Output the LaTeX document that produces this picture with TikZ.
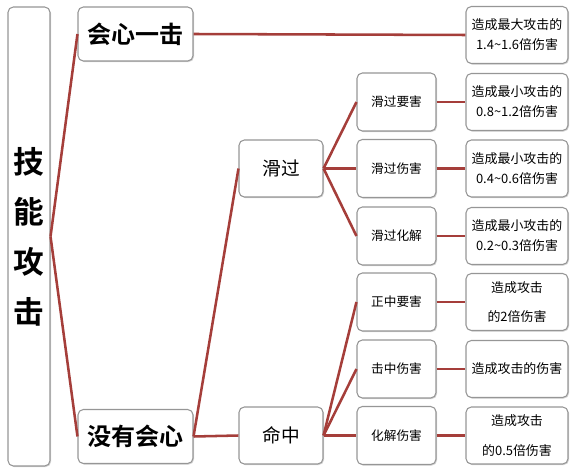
\documentclass[tikz,border=0pt]{standalone}
\usepackage{fontspec}
\setmainfont{Noto Sans CJK SC}[BoldFont={Noto Sans CJK SC Bold}]
\usetikzlibrary{shadows}
\definecolor{linkred}{RGB}{165,62,58}
\definecolor{boxgray}{RGB}{150,150,150}

\begin{document}
\begin{tikzpicture}[x=0.75pt, y=-0.75pt]
    % Define styles
    \tikzset{
        box/.style={
            draw=boxgray,
            line width=0.8pt,
            fill=white,
            rounded corners=4pt,
            drop shadow={shadow xshift=0.8pt, shadow yshift=-0.8pt, opacity=0.35},
            inner sep=0pt,
            align=center
        },
        rootbox/.style={
            box,
            minimum width=31.5pt,
            minimum height=344.25pt,
            font=\fontsize{23}{37.5}\selectfont\bfseries
        },
        mainbox/.style={
            box,
            minimum width=86.25pt,
            minimum height=40.5pt,
            font=\fontsize{18}{20}\selectfont\bfseries
        },
        midbox/.style={
            box,
            minimum width=63pt,
            minimum height=42.75pt,
            font=\fontsize{14}{16}\selectfont
        },
        subbox/.style={
            box,
            minimum width=59.25pt,
            minimum height=43.5pt,
            font=\fontsize{9.5}{12}\selectfont
        },
        resultbox/.style={
            box,
            minimum width=76.5pt,
            minimum height=42.75pt,
            font=\fontsize{9.7}{15}\selectfont
        },
        link/.style={
            linkred,
            line width=1.9pt
        }
    }

    \useasboundingbox (0,0) rectangle (574,470);

    % Root and first level
    \node[rootbox] (root) at (29,236.5) {技\\能\\攻\\击};
    \node[mainbox] (crit) at (135.5,34) {会心一击};
    \node[mainbox] (nocrit) at (135.5,436.5) {没有会心};

    % Second level
    \node[midbox] (graze) at (281,168.5) {滑过};
    \node[midbox] (hit) at (281,435.5) {命中};

    % Third level
    \node[subbox] (grazevital) at (396.5,102) {滑过要害};
    \node[subbox] (grazedmg) at (396.5,168.5) {滑过伤害};
    \node[subbox] (grazeparry) at (396.5,236) {滑过化解};
    \node[subbox] (hitvital) at (396.5,302) {正中要害};
    \node[subbox] (hitdmg) at (396.5,369) {击中伤害};
    \node[subbox] (hitparry) at (396.5,435.5) {化解伤害};

    % Results
    \node[resultbox] (rcrit) at (517,35) {造成最大攻击的\\1.4\textasciitilde1.6倍伤害};
    \node[resultbox] (rgrazevital) at (517,102) {造成最小攻击的\\0.8\textasciitilde1.2倍伤害};
    \node[resultbox] (rgrazedmg) at (517,168.5) {造成最小攻击的\\0.4\textasciitilde0.6倍伤害};
    \node[resultbox] (rgrazeparry) at (517,236) {造成最小攻击的\\0.2\textasciitilde0.3倍伤害};
    \node[resultbox] (rhitvital) at (517,302) {造成攻击\\[7pt]的2倍伤害};
    \node[resultbox] (rhitdmg) at (517,369) {造成攻击的伤害};
    \node[resultbox] (rhitparry) at (517,435.5) {造成攻击\\[7pt]的0.5倍伤害};

    % Connectors
    \draw[link] (root.east) -- (crit.west);
    \draw[link] (root.east) -- (nocrit.west);
    \draw[link] (crit.east) -- (rcrit.west);
    \draw[link] (nocrit.east) -- (graze.west);
    \draw[link] (nocrit.east) -- (hit.west);
    \foreach \n in {grazevital, grazedmg, grazeparry}
        \draw[link] (graze.east) -- (\n.west);
    \foreach \n in {hitvital, hitdmg, hitparry}
        \draw[link] (hit.east) -- (\n.west);
    \foreach \n in {grazevital, grazedmg, grazeparry, hitvital, hitdmg, hitparry}
        \draw[link] (\n.east) -- (r\n.west);

\end{tikzpicture}
\end{document}
